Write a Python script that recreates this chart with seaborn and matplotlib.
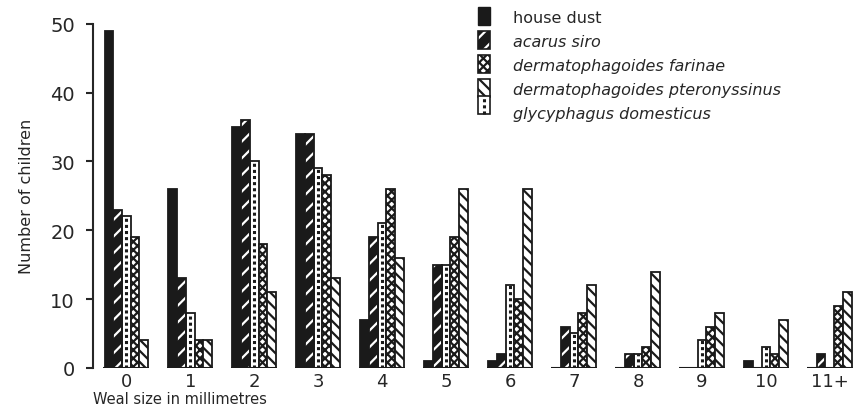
import pandas as pd
import matplotlib.pyplot as plt
import seaborn as sns
from matplotlib.patches import Patch, Rectangle
from matplotlib.lines import Line2D
from matplotlib.legend_handler import HandlerTuple

# Weal sizes and number of children per allergen
sizes = ['0', '1', '2', '3', '4', '5', '6', '7', '8', '9', '10', '11+']
house_dust = [49, 26, 35, 34, 7, 1, 1, 0, 0, 0, 1, 0]
acarus_siro = [23, 13, 36, 34, 19, 15, 2, 6, 2, 0, 0, 2]
glycyphagus = [22, 8, 30, 29, 21, 15, 12, 5, 2, 4, 3, 0]
farinae = [19, 4, 18, 28, 26, 19, 10, 8, 3, 6, 2, 9]
pteronyssinus = [4, 4, 11, 13, 16, 26, 26, 12, 14, 8, 7, 11]

bar_order = ['house dust', 'acarus siro', 'glycyphagus domesticus',
             'dermatophagoides farinae', 'dermatophagoides pteronyssinus']
series = [house_dust, acarus_siro, glycyphagus, farinae, pteronyssinus]

rows = []
for name, vals in zip(bar_order, series):
    for s, v in zip(sizes, vals):
        rows.append({'size': s, 'count': v, 'allergen': name})
df = pd.DataFrame(rows)

sns.set_style('ticks')
plt.rcParams['font.family'] = ['DejaVu Sans']
plt.rcParams['hatch.linewidth'] = 1.6

fig = plt.figure(figsize=(8.65, 4.14), dpi=100)
ax = fig.add_axes([0.1075, 0.109, 0.8925, 0.831])

palette = {'house dust': '#1a1a1a', 'acarus siro': '#1a1a1a',
           'glycyphagus domesticus': 'white', 'dermatophagoides farinae': 'white',
           'dermatophagoides pteronyssinus': 'white'}
sns.barplot(data=df, x='size', y='count', hue='allergen', order=sizes,
            hue_order=bar_order, palette=palette, width=0.68, saturation=1,
            edgecolor='#1a1a1a', linewidth=1.3, legend=False, ax=ax)

# hatching per series
for name, cont in zip(bar_order, ax.containers):
    for p in cont.patches:
        if name == 'acarus siro':
            p.set_edgecolor('white')
            p.set_hatch('//')
            p.set_linewidth(0)
            ax.add_patch(Rectangle(p.get_xy(), p.get_width(), p.get_height(),
                                   fill=False, ec='#1a1a1a', lw=1.3))
        elif name == 'dermatophagoides farinae':
            p.set_hatch('xxxx')
        elif name == 'dermatophagoides pteronyssinus':
            p.set_hatch('\\\\\\')
        elif name == 'glycyphagus domesticus' and p.get_height() > 0:
            xc = p.get_x() + p.get_width() / 2
            ax.vlines(xc, 0, p.get_height(), colors='#1a1a1a',
                      linestyles=(0, (1, 1)), lw=2.2)

# baseline under each group
pos = range(len(sizes))
ax.hlines([0] * len(sizes), [i - 0.36 for i in pos], [i + 0.36 for i in pos],
          colors='#1a1a1a', lw=1.5)

ax.set_xlim(-0.52, 11.55)
ax.set_ylim(0, 50)
ax.set_yticks([0, 10, 20, 30, 40, 50])
sns.despine(ax=ax, bottom=True)
ax.spines['left'].set_linewidth(1.5)
ax.tick_params(axis='y', labelsize=14, length=5, width=1.5, pad=8)
ax.tick_params(axis='x', labelsize=13, length=0, pad=3)
ax.set_ylabel('Number of children', fontsize=11.5, labelpad=12)
ax.set_xlabel('Weal size in millimetres', fontsize=10.5, loc='left', labelpad=1)


class DottedHandler:
    def legend_artist(self, legend, orig_handle, fontsize, handlebox):
        x0, y0 = handlebox.xdescent, handlebox.ydescent
        w, h = handlebox.width, handlebox.height
        tr = handlebox.get_transform()
        rect = Rectangle((x0, y0), w, h, fc='white', ec='#1a1a1a', lw=1.2, transform=tr)
        line = Line2D([x0 + w / 2] * 2, [y0, y0 + h], color='#1a1a1a',
                      ls=(0, (1, 1)), lw=2.2, transform=tr)
        handlebox.add_artist(rect)
        handlebox.add_artist(line)
        return rect


dot_handle = Patch(fc='white', ec='#1a1a1a')
handles = [
    Patch(fc='#1a1a1a', ec='#1a1a1a'),
    (Patch(fc='#1a1a1a', ec='white', hatch='//', lw=0),
     Patch(fill=False, ec='#1a1a1a', lw=1.2)),
    Patch(fc='white', ec='#1a1a1a', hatch='xxxx', lw=1.2),
    Patch(fc='white', ec='#1a1a1a', hatch='\\\\\\', lw=1.2),
    dot_handle,
]
labels = ['house dust', 'acarus siro', 'dermatophagoides farinae',
          'dermatophagoides pteronyssinus', 'glycyphagus domesticus']
leg = fig.legend(handles, labels, loc='upper left', bbox_to_anchor=(0.553, 0.98),
                 frameon=False, fontsize=11.5, handlelength=0.75, handleheight=1.35,
                 handletextpad=1.4, labelspacing=0.38, borderpad=0, borderaxespad=0,
                 handler_map={tuple: HandlerTuple(ndivide=1), dot_handle: DottedHandler()})
for t in leg.get_texts()[1:]:
    t.set_fontstyle('italic')

fig.savefig('out.png', dpi=100)
